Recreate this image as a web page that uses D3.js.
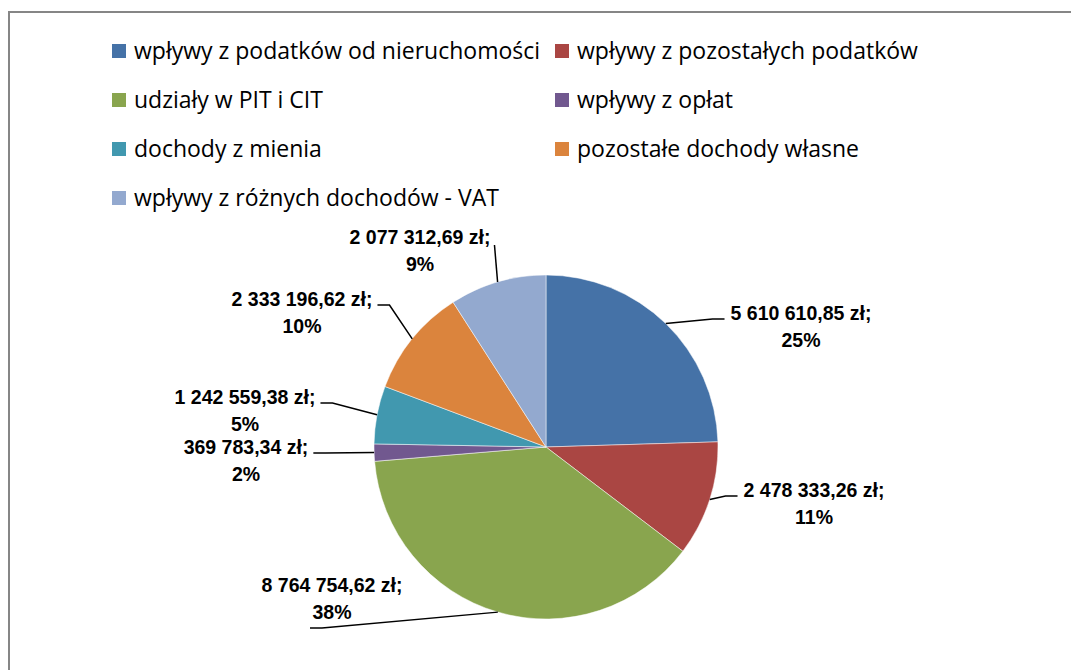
<!DOCTYPE html>
<html>
<head>
<meta charset="utf-8">
<script src="https://cdn.jsdelivr.net/npm/d3@7"></script>
<style>
  body { margin: 0; background: #fff; }
  svg { display: block; }
</style>
</head>
<body>
<svg id="chart" width="1071" height="670"></svg>
<script>
// data
const categories = [
  "wpływy z podatków od nieruchomości",
  "wpływy z pozostałych podatków",
  "udziały w PIT i CIT",
  "wpływy z opłat",
  "dochody z mienia",
  "pozostałe dochody własne",
  "wpływy z różnych dochodów - VAT"
];
const values = [5610610.85, 2478333.26, 8764754.62, 369783.34, 1242559.38, 2333196.62, 2077312.69];
const colors = ["#4572A7", "#AA4643", "#89A54E", "#71588F", "#4198AF", "#DB843D", "#93A9CF"];

// label placement (offset of the first label line from pie centre, which side the leader enters)
const labelOffsets = [[255, -134, "R"], [268, 43, "R"], [-214, 138, "B"], [-300, 0, "L"], [-301, -50, "L"], [-244, -148, "L"], [-126, -210, "T"]];

const svg = d3.select("#chart");
const total = d3.sum(values);

// outer frame
svg.append("rect")
  .attr("x", 9).attr("y", 12)
  .attr("width", 1100).attr("height", 700)
  .attr("fill", "none")
  .attr("stroke", "#868686")
  .attr("stroke-width", 2);

// legend
const legend = svg.append("g").attr("transform", "translate(112,44)");
const legendItems = legend.selectAll("g")
  .data(categories)
  .enter()
  .append("g")
  .attr("transform", (d, i) => "translate(" + (i % 2) * 443 + "," + Math.floor(i / 2) * 49 + ")");

legendItems.append("rect")
  .attr("width", 14).attr("height", 14)
  .attr("fill", (d, i) => colors[i]);

legendItems.append("text")
  .attr("x", 22).attr("y", 7)
  .attr("dy", "0.35em")
  .style("font-family", "'Open Sans', sans-serif")
  .style("font-size", "23px")
  .attr("fill", "#000")
  .text(d => d);

// pie
const cx = 546, cy = 447, radius = 172;
const pie = d3.pie().sort(null).value(d => d);
const arcs = pie(values);
const arc = d3.arc().innerRadius(0).outerRadius(radius);
const edge = d3.arc().innerRadius(radius).outerRadius(radius);

const g = svg.append("g").attr("transform", "translate(" + cx + "," + cy + ")");

g.selectAll("path.slice")
  .data(arcs)
  .enter()
  .append("path")
  .attr("class", "slice")
  .attr("d", arc)
  .attr("fill", (d, i) => colors[i])
  .attr("stroke", "#fff")
  .attr("stroke-width", 0.5);

const fmt = v => {
  const parts = v.toFixed(2).split(".");
  return parts[0].replace(/\B(?=(\d{3})+(?!\d))/g, " ") + "," + parts[1] + " zł;";
};

arcs.forEach(function(d, i) {
  const [dx, dy, side] = labelOffsets[i];
  const lab = g.append("g").attr("transform", "translate(" + dx + "," + dy + ")");
  const t1 = lab.append("text")
    .attr("text-anchor", "middle")
    .attr("dy", "0.35em")
    .style("font-family", "'Liberation Sans', Arial, sans-serif")
    .style("font-weight", "bold")
    .style("font-size", "19.5px")
    .text(fmt(values[i]));
  lab.append("text")
    .attr("text-anchor", "middle")
    .attr("y", 27)
    .attr("dy", "0.35em")
    .style("font-family", "'Liberation Sans', Arial, sans-serif")
    .style("font-weight", "bold")
    .style("font-size", "19.5px")
    .text(Math.round(values[i] / total * 100) + "%");

  const half = t1.node().getComputedTextLength() / 2;
  const p = edge.centroid(d);
  let a, b;
  if (side === "R") {
    a = [dx - half - 6, dy + 6];
    b = [a[0] - 12, a[1]];
  } else if (side === "L") {
    a = [dx + half + 5, dy + 6];
    b = [a[0] + 12, a[1]];
  } else if (side === "B") {
    a = [dx - 22, dy + 43];
    b = [a[0] + 12, a[1]];
  } else {
    a = [dx + half + 4, dy + 8];
    b = a;
  }
  g.append("path")
    .attr("d", d3.line()([a, b, p]))
    .attr("fill", "none")
    .attr("stroke", "#000")
    .attr("stroke-width", 1.5);
});
</script>
</body>
</html>
